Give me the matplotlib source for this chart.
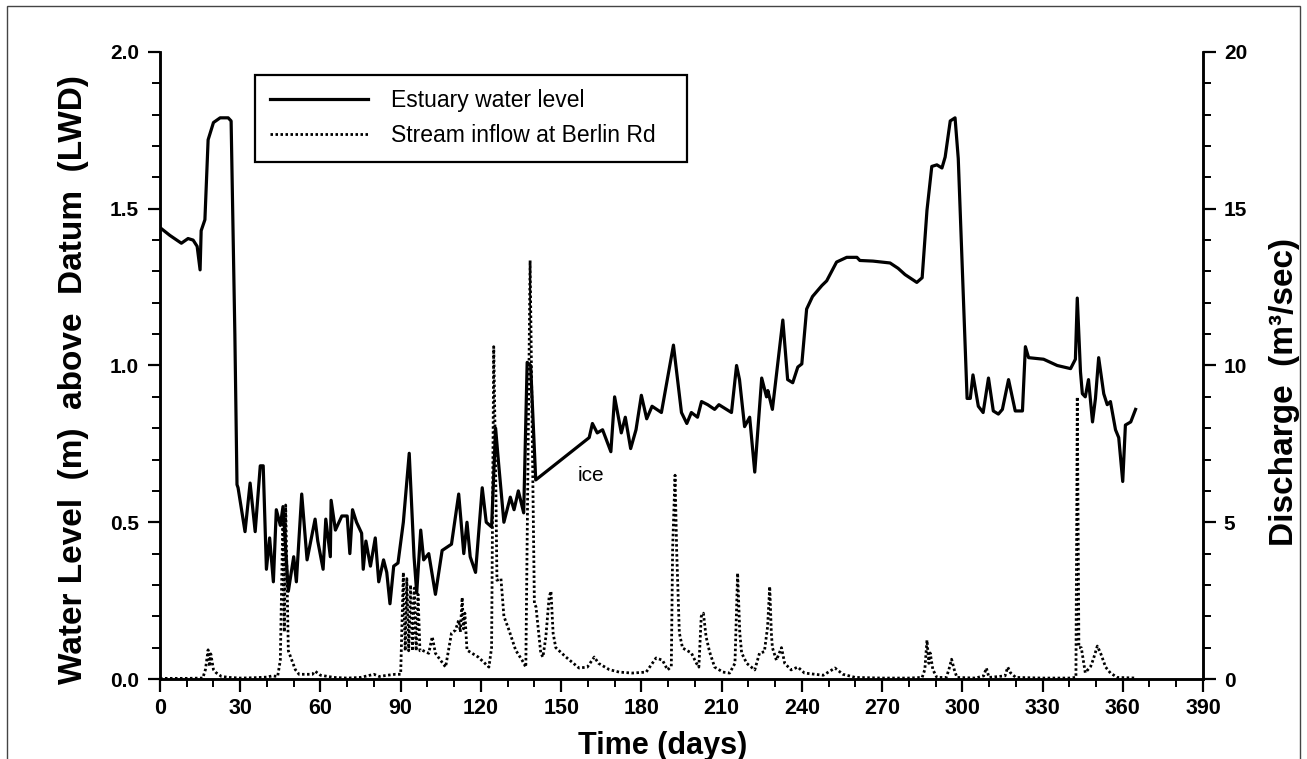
import matplotlib
matplotlib.use("Agg")
import matplotlib.pyplot as plt
from matplotlib.patches import Rectangle
from matplotlib.lines import Line2D

plt.rcParams['font.family'] = ['Liberation Sans', 'DejaVu Sans']

# estuary water level (m above LWD)
level_day = [0, 3.7, 8, 10.5, 12.4, 13.9, 15, 15.4, 16.8, 18, 20, 22.5, 25.5, 26.6, 28, 28.8,
             29.2, 31.8, 33.7, 35.6, 37.5, 38.6, 39.8, 41, 42.4, 43.5, 45, 46, 48, 50, 51, 53,
             55, 58, 59, 61, 62, 63.7, 64, 65.6, 68, 70, 71, 72, 73.5, 75.4, 76, 77, 78.7,
             80.5, 81.8, 83.6, 84.8, 86, 87.4, 89, 91, 93.2, 95, 96, 97.5, 98.6, 100.5, 103,
             105.5, 109, 111.7, 113.6, 114.8, 116, 118, 120.5, 122, 124, 125.5, 126.7, 128.6,
             131, 132.4, 134, 136, 137.3, 138.6, 140.5, 160.5, 161.7, 163.5, 165.5, 168.6, 170,
             172.5, 174, 176, 178, 180, 182, 184, 187.5, 192, 195, 197, 198.7, 201, 202.5,
             204.8, 207.4, 209, 213.7, 215.6, 216.7, 218.6, 220.5, 222.4, 223.5, 225, 226.8,
             227.3, 229, 232.9, 234.7, 236.6, 238.5, 240, 241.8, 244, 247.5, 249.3, 253, 256.8,
             260.6, 261.7, 266.6, 273, 276, 278.6, 283, 285, 286.8, 288.6, 290.5, 292.4, 293.6,
             295.5, 297.3, 298.5, 301.8, 303, 304, 306, 307.8, 309.8, 311.6, 313.5, 315, 317.3,
             319.8, 322.5, 323.6, 324.8, 330.4, 335.5, 340.5, 342.3, 343, 344.2, 344.9, 346,
             347.2, 348.7, 349.8, 351, 352.9, 354.2, 355.4, 357.3, 358.5, 360, 361, 363, 364.8]
level = [1.44, 1.415, 1.39, 1.405, 1.40, 1.38, 1.305, 1.43, 1.465, 1.72, 1.775, 1.79, 1.79, 1.78, 1.10, 0.62,
         0.61, 0.47, 0.625, 0.47, 0.68, 0.68, 0.35, 0.45, 0.31, 0.54, 0.49, 0.55, 0.28, 0.39, 0.31, 0.59,
         0.38, 0.51, 0.44, 0.35, 0.51, 0.39, 0.57, 0.475, 0.52, 0.52, 0.40, 0.54, 0.50, 0.465, 0.35, 0.44, 0.36,
         0.45, 0.31, 0.38, 0.34, 0.24, 0.36, 0.37, 0.50, 0.72, 0.39, 0.275, 0.475, 0.38, 0.40, 0.27,
         0.41, 0.43, 0.59, 0.40, 0.50, 0.39, 0.34, 0.61, 0.50, 0.485, 0.80, 0.68, 0.50,
         0.58, 0.54, 0.60, 0.53, 1.01, 1.0, 0.635, 0.77, 0.815, 0.785, 0.795, 0.725, 0.90,
         0.785, 0.835, 0.735, 0.795, 0.905, 0.83, 0.87, 0.85, 1.065, 0.85, 0.815, 0.85, 0.835, 0.885,
         0.875, 0.86, 0.875, 0.85, 1.0, 0.955, 0.805, 0.835, 0.66, 0.785, 0.96, 0.90,
         0.92, 0.86, 1.145, 0.955, 0.945, 0.995, 1.005, 1.18, 1.22, 1.255, 1.27, 1.33, 1.345,
         1.345, 1.335, 1.333, 1.327, 1.31, 1.29, 1.265, 1.28, 1.495, 1.635, 1.64, 1.63, 1.665,
         1.78, 1.79, 1.66, 0.895, 0.895, 0.97, 0.87, 0.85, 0.96, 0.855, 0.845, 0.86, 0.955,
         0.855, 0.855, 1.06, 1.025, 1.02, 1.0, 0.99, 1.02, 1.215, 0.98, 0.91, 0.90,
         0.955, 0.82, 0.895, 1.025, 0.91, 0.875, 0.885, 0.795, 0.77, 0.63, 0.81, 0.82, 0.86]

# stream inflow at Berlin Rd (m3/sec)
flow_day = [0, 10, 16, 17, 18, 18.5, 19, 20, 21, 23, 26, 30, 35, 40, 42, 44, 45, 46, 46.5, 47, 48, 49,
            50.6, 52, 55, 57, 58, 60, 65, 70, 75, 80, 82, 85, 88, 90, 91, 91.7, 92.3, 93, 93.7, 94.4,
            95.1, 95.8, 96.5, 97.2, 98, 100.5, 101.8, 103, 106.8, 109, 110.5, 111.7, 112.3, 113,
            113.5, 114, 114.8, 119, 123, 124, 124.8, 125.5, 126, 127.5, 128.6, 130.5, 133, 135.4,
            136.8, 138.4, 140, 140.6, 142.4, 143.2, 144.3, 145.5, 146.2, 147, 148, 151.8, 156.7,
            159.8, 162.4, 164, 168, 171.7, 176.6, 181.8, 185.5, 187.9, 189.8, 191.2, 191.7, 192.6,
            193.2, 194.2, 195.4, 198.7, 200.6, 201.5, 202.4, 203.2, 204.2, 205.5, 207.4, 210.5, 213,
            215, 216, 216.8, 217.5, 219.4, 222.4, 224.2, 226, 227.2, 228, 228.6, 229, 230.5, 232.4,
            233.6, 236, 238.5, 241, 248, 252.4, 255.4, 260, 270, 280, 285, 286, 286.8, 287.5, 288,
            289, 290.5, 294, 295, 296, 297, 298, 305, 308, 309, 310, 316, 317, 318, 320, 330, 340,
            342.5, 343, 343.6, 344.5, 346, 348, 349, 350.5, 351.7, 353.6, 355.4, 358, 365]
flow = [0.02, 0.02, 0.03, 0.3, 0.93, 0.4, 0.8, 0.3, 0.2, 0.08, 0.05, 0.03, 0.04, 0.06, 0.1, 0.08, 0.6, 5.4, 1.5, 5.55, 0.9, 0.67,
        0.3, 0.15, 0.15, 0.15, 0.25, 0.12, 0.05, 0.03, 0.05, 0.15, 0.08, 0.12, 0.15, 0.15, 3.4, 0.9, 3.2, 0.9, 3.0, 0.9,
        2.9, 0.9, 2.7, 0.9, 0.92, 0.82, 1.35, 0.82, 0.38, 1.46, 1.56, 1.88, 1.5, 2.6,
        1.6, 2.1, 0.92, 0.7, 0.38, 1.0, 10.6, 6.75, 3.15, 3.2, 2.0, 1.56, 0.92, 0.6,
        0.38, 13.35, 2.4, 2.3, 0.82, 0.7, 1.35, 2.6, 2.8, 1.46, 1.0, 0.7, 0.35,
        0.38, 0.7, 0.5, 0.3, 0.22, 0.19, 0.22, 0.67, 0.6, 0.29, 0.4, 4.18, 6.5,
        4.1, 1.47, 0.99, 0.83, 0.5, 0.38, 2.0, 2.1, 1.35, 0.87, 0.38, 0.22, 0.19,
        0.5, 3.38, 1.47, 0.83, 0.5, 0.29, 0.83, 0.87, 1.66, 2.95, 1.47, 1.0, 0.6, 1.0,
        0.5, 0.29, 0.38, 0.19, 0.12, 0.35, 0.15, 0.05, 0.03, 0.03, 0.05, 0.3, 1.24, 0.5, 0.83,
        0.3, 0.05, 0.05, 0.3, 0.63, 0.3, 0.05, 0.03, 0.1, 0.35, 0.05, 0.1, 0.38, 0.2, 0.05, 0.03, 0.03,
        0.05, 9.0, 1.0, 1.0, 0.2, 0.4, 0.63, 1.05, 0.83, 0.38, 0.19, 0.05, 0.03]

xticks = list(range(0, 391, 30))
dots = (0, (0.9, 0.9))

fig = plt.figure(figsize=(13.07, 7.59), dpi=100)
ax = fig.add_axes([0.1224, 0.1054, 0.798, 0.8261])
ax2 = ax.twinx()

ax.plot(level_day, level, color='black', lw=2.3)
ax2.plot(flow_day, flow, color='black', lw=2.0, linestyle=dots)

ax.set_xlim(0, 390)
ax.set_ylim(0, 2.0)
ax2.set_ylim(0, 20)

ax.set_xticks(xticks)
ax.set_xticks(range(0, 391, 10), minor=True)
ax.set_yticks([0, 0.5, 1.0, 1.5, 2.0])
ax.set_yticklabels(['0.0', '0.5', '1.0', '1.5', '2.0'])
ax.set_yticks([i / 10 for i in range(21)], minor=True)
ax2.set_yticks([0, 5, 10, 15, 20])
ax2.set_yticks(range(21), minor=True)

for a in (ax, ax2):
    a.spines['top'].set_visible(False)
    for s in ('left', 'right', 'bottom'):
        a.spines[s].set_linewidth(1.8)
    a.tick_params(which='major', direction='out', length=9, width=1.6)
    a.tick_params(which='minor', direction='out', length=6, width=1.4)

ax.tick_params(axis='y', labelsize=15, pad=6)
ax2.tick_params(axis='y', labelsize=15, pad=6)
for lab in ax.get_yticklabels() + ax2.get_yticklabels():
    lab.set_fontweight('bold')
ax.tick_params(axis='x', labelsize=15.5, pad=5)
for lab in ax.get_xticklabels():
    lab.set_fontweight('bold')

ax.set_xlabel('Time (days)', fontsize=22, fontweight='bold')
ax.xaxis.set_label_coords(0.482, -0.083)
ax.set_ylabel('Water Level  (m)  above  Datum  (LWD)', fontsize=24, fontweight='bold')
ax.yaxis.set_label_coords(-0.068, 0.478)
ax2.set_ylabel('Discharge  (m³/sec)', fontsize=24, fontweight='bold')
ax2.yaxis.set_label_coords(1.063, 0.457)

ax.text(156, 0.63, 'ice', fontsize=15)

handles = [Line2D([], [], color='black', lw=2.3),
           Line2D([], [], color='black', lw=2.0, linestyle=dots)]
leg = ax.legend(handles, ['Estuary water level', 'Stream inflow at Berlin Rd'],
                loc='upper left', bbox_to_anchor=(0.091, 0.964, 0.414, 0.0), mode='expand',
                borderaxespad=0, fontsize=16.5, handlelength=4.3, handletextpad=1.0,
                labelspacing=0.5, borderpad=0.65, fancybox=False, framealpha=1,
                edgecolor='black')
leg.get_frame().set_linewidth(1.6)

fig.patches.append(Rectangle((0.005, -0.05), 0.990, 1.042, transform=fig.transFigure,
                             fill=False, edgecolor='#444444', lw=1.0))

fig.savefig('out.png', dpi=100)
